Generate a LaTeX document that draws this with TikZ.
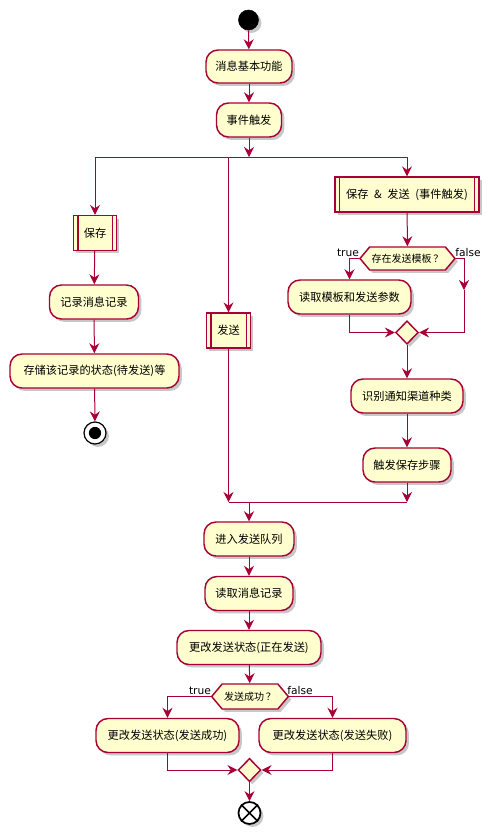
\documentclass[tikz,border=0pt]{standalone}
\usepackage{fontspec}
\setmainfont{Noto Sans CJK SC}
\newfontfamily\labfont{DejaVu Sans}
\usetikzlibrary{arrows.meta,shapes.geometric,shapes.symbols,shadows,calc}
\definecolor{actfill}{HTML}{FEFECE}
\definecolor{actline}{HTML}{A80036}
\tikzset{
  shd/.style={drop shadow={shadow xshift=2.2pt,shadow yshift=-2.2pt,opacity=0.22,fill=black}},
  act/.style={draw=actline, fill=actfill, line width=1.1pt, rounded corners=9pt,
    minimum height=25.5pt, inner sep=0pt, font=\fontsize{8.4pt}{10pt}\selectfont, shd},
  subp/.style={draw=actline, fill=actfill, line width=1.1pt,
    minimum height=26pt, inner sep=0pt, font=\fontsize{8.4pt}{10pt}\selectfont, shd},
  subln/.style={draw=actline, line width=1.1pt},
  hex/.style={signal, signal to=west and east, signal pointer angle=100, draw=actline,
    fill=actfill, line width=1.1pt, inner sep=0pt, font=\fontsize{7.5pt}{9pt}\selectfont, shd},
  dia/.style={diamond, draw=actline, fill=actfill, line width=1.1pt, minimum width=17pt,
    minimum height=17.5pt, inner sep=0pt, shd},
  arr/.style={draw=actline, line width=0.75pt, -{Stealth[length=7.5pt,width=7.5pt,inset=2.5pt]}},
  ln/.style={draw=actline, line width=0.75pt},
  lbl/.style={font=\labfont\fontsize{8pt}{9pt}\selectfont, inner sep=0pt},
  startc/.style={circle, fill=black, draw=black, minimum size=15pt, inner sep=0pt, shd},
  stopc/.style={circle, fill=white, draw=black, line width=0.9pt, minimum size=16.5pt, inner sep=0pt, shd},
  endc/.style={circle, fill=white, draw=black, line width=1.3pt, minimum size=16.5pt, inner sep=0pt, shd}
}
\newcommand{\sublines}[1]{\draw[subln] ([xshift=3.75pt]#1.north west) -- ([xshift=3.75pt]#1.south west)
  ([xshift=-3.75pt]#1.north east) -- ([xshift=-3.75pt]#1.south east);}
\newcommand{\gap}{\hspace{0.5em}}
\begin{document}
\begin{tikzpicture}[x=0.75pt,y=-0.75pt]
\useasboundingbox (0,0) rectangle (493,833);
% top
\node[startc] (start) at (248.5,20) {};
\node[act, minimum width=64.5pt, minimum height=24.75pt] (n1) at (249,66.5) {消息基本功能};
\node[act, minimum width=48.75pt] (n2) at (249,120) {事件触发};
\coordinate (fk) at (249,157);
\coordinate (fL) at (95,157);
\coordinate (fM) at (228.5,157);
\coordinate (fR) at (407,157);
% branch nodes
\node[subp, minimum width=32.25pt] (save) at (95,233) {保存};
\sublines{save}
\node[subp, minimum width=33pt] (send) at (228.5,330.5) {发送};
\sublines{send}
\node[subp, minimum width=108pt] (ss) at (407,194.5) {保存{\gap}\&{\gap}发送{\gap}(事件触发)};
\sublines{ss}
\node[act, minimum width=66.75pt] (rec) at (94,302) {记录消息记录};
\node[act, minimum width=126.75pt] (store) at (94.5,371) {存储该记录的状态(待发送)等};
\node[stopc] (stop) at (95,433) {};
\fill[black] (stop.center) circle (4.6pt);
\node[hex, minimum width=71.25pt, minimum height=17.25pt] (d1) at (407.5,258.5) {存在发送模板{\,}？};
\node[lbl] (t1) at (348,252.5) {true};
\node[lbl] (f1) at (468,252.5) {false};
\node[act, minimum width=92.25pt] (rt) at (349.5,297) {读取模板和发送参数};
\coordinate (fa) at (464,290);
\node[dia] (m1) at (407,332.5) {};
\node[act, minimum width=84pt] (ident) at (407,396) {识别通知渠道种类};
\node[act, minimum width=66pt] (trig) at (407,465) {触发保存步骤};
\coordinate (jL) at (228.5,502);
\coordinate (jR) at (407,502);
\coordinate (jM) at (249,502);
% lower part
\node[act, minimum width=67.5pt] (q) at (249,539) {进入发送队列};
\node[act, minimum width=66pt] (rm) at (249,593.5) {读取消息记录};
\node[act, minimum width=108pt] (chg) at (249,647.5) {更改发送状态(正在发送)};
\node[hex, minimum width=57.5pt, minimum height=18.75pt] (d2) at (250,696.5) {发送成功{\,}？};
\node[lbl] (t2) at (200,690.5) {true};
\node[lbl] (f2) at (300,690.5) {false};
\node[act, minimum width=107.25pt] (ok) at (167.5,735.5) {更改发送状态(发送成功)};
\node[act, minimum width=110.25pt] (fail) at (332.5,735.5) {更改发送状态(发送失败)};
\node[dia] (m2) at (249.5,770) {};
\node[endc] (end) at (249.5,813) {};
\draw[black, line width=1.3pt] (end.45) -- (end.225) (end.135) -- (end.315);
% connectors
\draw[arr] (start) -- (n1);
\draw[arr] (n1) -- (n2);
\draw[arr] (n2) -- (fk);
\draw[ln] (fL) -- (fR);
\draw[arr] (fL) -- (save);
\draw[arr] (fM) -- (send);
\draw[arr] (fR) -- (ss);
\draw[arr] (save) -- (rec);
\draw[arr] (rec) -- (store);
\draw[arr] (store) -- (stop);
\draw[arr] (ss) -- (d1);
\draw[arr] (d1.west) -| (rt.north);
\draw[arr] (d1.east) -| (fa);
\draw[arr] (fa) |- (m1.east);
\draw[arr] (rt.south) |- (m1.west);
\draw[arr] (m1) -- (ident);
\draw[arr] (ident) -- (trig);
\draw[arr] (trig) -- (jR);
\draw[arr] (send) -- (jL);
\draw[ln] (jL) -- (jR);
\draw[arr] (jM) -- (q);
\draw[arr] (q) -- (rm);
\draw[arr] (rm) -- (chg);
\draw[arr] (chg) -- (d2);
\draw[arr] (d2.west) -| (ok.north);
\draw[arr] (d2.east) -| (fail.north);
\draw[arr] (ok.south) |- (m2.west);
\draw[arr] (fail.south) |- (m2.east);
\draw[arr] (m2) -- (end);
\end{tikzpicture}
\end{document}
